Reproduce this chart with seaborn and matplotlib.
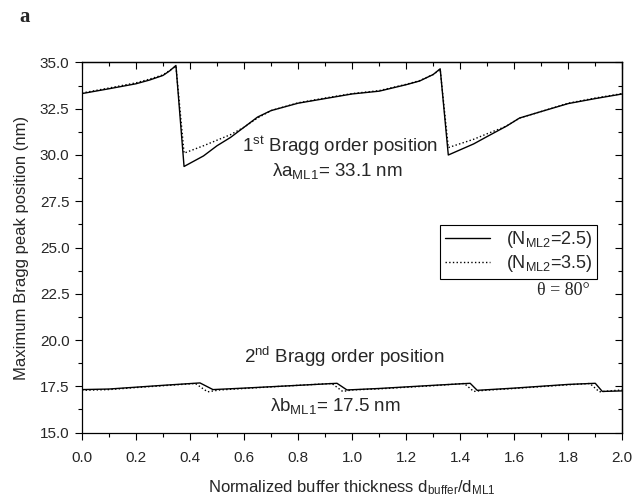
import matplotlib
matplotlib.use('Agg')
import matplotlib.pyplot as plt
from matplotlib.ticker import MultipleLocator
import seaborn as sns

# first Bragg order, N_ML2 = 2.5 (solid)
x_top_a = [0.0, 0.1, 0.2, 0.25, 0.3, 0.325, 0.348, 0.378, 0.45, 0.5, 0.55, 0.6,
           0.65, 0.7, 0.8, 0.9, 1.0, 1.1, 1.2, 1.25, 1.3, 1.326, 1.356, 1.45,
           1.5, 1.57, 1.62, 1.7, 1.8, 1.9, 2.0]
y_top_a = [33.32, 33.58, 33.85, 34.05, 34.3, 34.55, 34.84, 29.38, 29.95, 30.5,
           30.95, 31.5, 32.05, 32.4, 32.8, 33.05, 33.3, 33.45, 33.8, 34.0,
           34.35, 34.66, 30.0, 30.6, 31.0, 31.55, 32.0, 32.35, 32.78, 33.05, 33.3]
# first Bragg order, N_ML2 = 3.5 (dotted)
x_top_b = [0.0, 0.1, 0.2, 0.25, 0.3, 0.325, 0.348, 0.378, 0.45, 0.5, 0.55, 0.6,
           0.65, 0.7, 0.8, 0.9, 1.0, 1.1, 1.2, 1.25, 1.3, 1.326, 1.356, 1.45,
           1.5, 1.57, 1.62, 1.7, 1.8, 1.9, 2.0]
y_top_b = [33.35, 33.62, 33.9, 34.1, 34.33, 34.57, 34.8, 30.1, 30.5, 30.8,
           31.1, 31.5, 32.0, 32.4, 32.82, 33.08, 33.32, 33.48, 33.82, 34.02,
           34.35, 34.62, 30.4, 30.85, 31.15, 31.55, 32.0, 32.35, 32.8, 33.08, 33.32]

# second Bragg order
x_bot_a = [0.0, 0.1, 0.2, 0.3, 0.437, 0.485, 0.6, 0.8, 0.944, 0.981, 1.1, 1.3,
           1.437, 1.463, 1.6, 1.8, 1.9, 1.926, 2.0]
y_bot_a = [17.32, 17.35, 17.45, 17.55, 17.68, 17.32, 17.4, 17.55, 17.66, 17.3,
           17.38, 17.55, 17.66, 17.28, 17.4, 17.6, 17.66, 17.22, 17.25]
x_bot_b = [0.0, 0.1, 0.2, 0.3, 0.42, 0.465, 0.51, 0.6, 0.8, 0.925, 0.965, 1.0,
           1.1, 1.3, 1.415, 1.45, 1.49, 1.6, 1.8, 1.88, 1.915, 1.96, 2.0]
y_bot_b = [17.28, 17.32, 17.43, 17.53, 17.65, 17.2, 17.3, 17.38, 17.55, 17.65,
           17.22, 17.3, 17.36, 17.53, 17.65, 17.22, 17.28, 17.38, 17.58, 17.65,
           17.2, 17.26, 17.3]

labels = ['(N$_{\\rm ML2}$=2.5)', '(N$_{\\rm ML2}$=3.5)']

sns.set_style('ticks')
plt.rcParams['font.family'] = ['Liberation Sans', 'DejaVu Sans']
plt.rcParams['mathtext.fontset'] = 'custom'
plt.rcParams['mathtext.rm'] = 'Liberation Sans'
plt.rcParams['mathtext.it'] = 'Liberation Sans:italic'

fig, ax = plt.subplots(figsize=(6.35, 4.96), dpi=100)
fig.subplots_adjust(left=0.129, right=0.98, top=0.874, bottom=0.128)

sns.lineplot(x=x_top_a, y=y_top_a, ax=ax, color='black', lw=1.0, sort=False,
             estimator=None, label=labels[0])
sns.lineplot(x=x_top_b, y=y_top_b, ax=ax, color='black', lw=1.0, ls=':',
             sort=False, estimator=None, label=labels[1])
sns.lineplot(x=x_bot_a, y=y_bot_a, ax=ax, color='black', lw=1.0, sort=False,
             estimator=None)
sns.lineplot(x=x_bot_b, y=y_bot_b, ax=ax, color='black', lw=1.0, ls=':',
             sort=False, estimator=None)

ax.set_xlim(0, 2.0)
ax.set_ylim(15.0, 35.0)
ax.xaxis.set_major_locator(MultipleLocator(0.2))
ax.xaxis.set_minor_locator(MultipleLocator(0.1))
ax.yaxis.set_major_locator(MultipleLocator(2.5))
ax.yaxis.set_minor_locator(MultipleLocator(1.25))
ax.set_xticklabels([f'{v:.1f}' for v in ax.get_xticks()])
ax.set_yticklabels([f'{v:.1f}' for v in ax.get_yticks()])
ax.tick_params(which='both', direction='out', labelsize=11, color='black',
               width=0.8)
ax.tick_params(axis='x', which='major', length=5, pad=8)
ax.tick_params(axis='x', which='minor', length=3)
ax.tick_params(axis='y', which='major', length=5, pad=4)
ax.tick_params(axis='y', which='minor', length=3)
for s in ax.spines.values():
    s.set_color('black')
    s.set_linewidth(0.9)

# mirrored inward ticks on top and right
top = ax.secondary_xaxis('top')
top.xaxis.set_major_locator(MultipleLocator(0.2))
top.xaxis.set_minor_locator(MultipleLocator(0.1))
top.tick_params(which='both', direction='in', labeltop=False, color='black', width=0.8)
top.tick_params(which='major', length=5)
top.tick_params(which='minor', length=3)
right = ax.secondary_yaxis('right')
right.yaxis.set_major_locator(MultipleLocator(2.5))
right.yaxis.set_minor_locator(MultipleLocator(1.25))
right.tick_params(which='both', direction='in', labelright=False, color='black', width=0.8)
right.tick_params(which='major', length=5)
right.tick_params(which='minor', length=3)
for sec in (top, right):
    for s in sec.spines.values():
        s.set_color('black')
        s.set_linewidth(0.9)

ax.set_xlabel('Normalized buffer thickness d$_{\\rm buffer}$/d$_{\\rm ML1}$',
              fontsize=12, labelpad=10)
ax.set_ylabel('Maximum Bragg peak position (nm)', fontsize=12, labelpad=8)

ax.text(0.955, 30.5, '1$^{\\rm st}$ Bragg order position', fontsize=13.5,
        ha='center', va='center')
ax.text(0.944, 29.15, 'λa$_{\\rm ML1}$= 33.1 nm', fontsize=13.5,
        ha='center', va='center')
ax.text(0.97, 19.1, '2$^{\\rm nd}$ Bragg order position', fontsize=13.5,
        ha='center', va='center')
ax.text(0.937, 16.45, 'λb$_{\\rm ML1}$= 17.5 nm', fontsize=13.5,
        ha='center', va='center')
ax.text(0.94, 0.383, 'θ = 80°', transform=ax.transAxes, fontsize=13,
        ha='right', va='center', family='Liberation Serif')
fig.text(0.03, 0.965, 'a', fontsize=15, fontweight='bold',
         family='Liberation Serif', ha='left', va='center')

leg = ax.legend(loc='upper left', bbox_to_anchor=(0.663, 0.561), fontsize=13,
                frameon=True, fancybox=False, edgecolor='black', framealpha=1,
                handlelength=2.5, borderpad=0.25, labelspacing=0.15,
                handletextpad=0.9, borderaxespad=0)
leg.get_frame().set_linewidth(0.8)

fig.savefig('out.png', dpi=100)
